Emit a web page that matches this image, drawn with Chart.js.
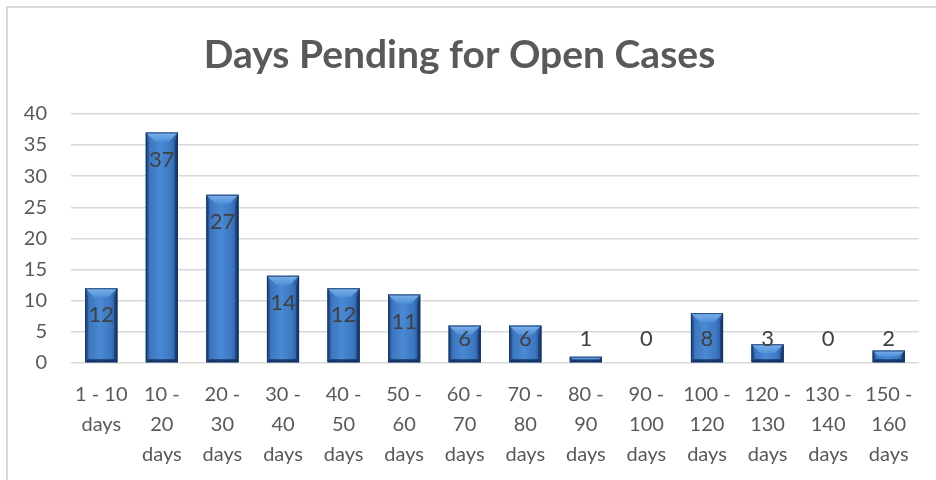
<!DOCTYPE html>
<html>
<head>
<meta charset="utf-8">
<script src="https://cdn.jsdelivr.net/npm/chart.js@4/dist/chart.umd.min.js"></script>
<style>
html,body{margin:0;padding:0;background:#fff;}
#wrap{position:absolute;left:0;top:0;width:936px;height:480px;}
</style>
</head>
<body>
<div id="wrap"><canvas id="c" width="936" height="480"></canvas></div>
<script>
const categories = [
  ["1 - 10","days"],["10 -","20","days"],["20 -","30","days"],["30 -","40","days"],
  ["40 -","50","days"],["50 -","60","days"],["60 -","70","days"],["70 -","80","days"],
  ["80 -","90","days"],["90 -","100","days"],["100 -","120","days"],["120 -","130","days"],
  ["130 -","140","days"],["150 -","160","days"]
];
const openCases = [12, 37, 27, 14, 12, 11, 6, 6, 1, 0, 8, 3, 0, 2];
const titleText = "Days Pending for Open Cases";
const yMin = 0, yMax = 40, yStep = 5;

const FONT = "Lato, 'Liberation Sans', sans-serif";

const frame = {
  id: 'frame',
  beforeDraw(chart) {
    const ctx = chart.ctx;
    ctx.save();
    ctx.fillStyle = '#fff';
    ctx.fillRect(0, 0, chart.width, chart.height);
    ctx.strokeStyle = '#d9d9d9';
    ctx.lineWidth = 2;
    ctx.beginPath();
    ctx.moveTo(7, chart.height);
    ctx.lineTo(7, 7);
    ctx.lineTo(chart.width, 7);
    ctx.stroke();
    ctx.restore();
  }
};

const bevel = {
  id: 'bevel',
  afterDatasetsDraw(chart) {
    const ctx = chart.ctx;
    const meta = chart.getDatasetMeta(0);
    const yScale = chart.scales.y;
    ctx.save();
    meta.data.forEach((bar, i) => {
      const p = bar.getProps(['x', 'y', 'base', 'width'], true);
      const x0 = p.x - p.width / 2, x1 = p.x + p.width / 2;
      const top = Math.min(p.y, p.base), bot = Math.max(p.y, p.base);
      const h = bot - top;
      if (h < 0.5) return;
      const g = ctx.createLinearGradient(x0, 0, x1, 0);
      g.addColorStop(0, '#1f4a82');
      g.addColorStop(0.1, '#3b74bd');
      g.addColorStop(0.45, '#4a89d4');
      g.addColorStop(0.8, '#3c76c0');
      g.addColorStop(0.94, '#2a5b9c');
      g.addColorStop(1, '#173c6c');
      ctx.fillStyle = g;
      ctx.fillRect(x0, top, p.width, h);
      const b = Math.min(9, h / 2);
      const tg = ctx.createLinearGradient(0, top, 0, top + b);
      tg.addColorStop(0, '#7fb2ec');
      tg.addColorStop(1, '#4f8fd8');
      ctx.fillStyle = tg;
      ctx.beginPath();
      ctx.moveTo(x0, top);
      ctx.lineTo(x1, top);
      ctx.lineTo(x1 - b, top + b);
      ctx.lineTo(x0 + b, top + b);
      ctx.closePath();
      ctx.fill();
      const s = Math.min(3, b);
      ctx.fillStyle = 'rgba(30,70,130,0.55)';
      ctx.beginPath();
      ctx.moveTo(x0, top);
      ctx.lineTo(x0 + s, top + b);
      ctx.lineTo(x0 + s, bot - s);
      ctx.lineTo(x0, bot);
      ctx.closePath();
      ctx.fill();
      ctx.fillStyle = 'rgba(15,45,90,0.6)';
      ctx.beginPath();
      ctx.moveTo(x1, top);
      ctx.lineTo(x1 - s, top + b);
      ctx.lineTo(x1 - s, bot - s);
      ctx.lineTo(x1, bot);
      ctx.closePath();
      ctx.fill();
      ctx.fillStyle = 'rgba(10,35,75,0.75)';
      ctx.beginPath();
      ctx.moveTo(x0, bot);
      ctx.lineTo(x0 + s, bot - s);
      ctx.lineTo(x1 - s, bot - s);
      ctx.lineTo(x1, bot);
      ctx.closePath();
      ctx.fill();
      ctx.strokeStyle = 'rgba(20,50,95,0.8)';
      ctx.lineWidth = 1;
      ctx.strokeRect(x0 + 0.5, top + 0.5, p.width - 1, h - 1);
    });
    const zeroPx = yScale.getPixelForValue(0);
    ctx.fillStyle = '#404040';
    ctx.font = "22px " + FONT;
    ctx.textAlign = 'center';
    ctx.textBaseline = 'middle';
    meta.data.forEach((bar, i) => {
      const p = bar.getProps(['x', 'y'], true);
      const ly = Math.min(p.y + 27, zeroPx - 24);
      ctx.fillText(String(openCases[i]), p.x, ly);
    });
    ctx.restore();
  }
};

new Chart(document.getElementById('c'), {
  type: 'bar',
  data: {
    labels: categories,
    datasets: [{
      data: openCases,
      backgroundColor: '#3f7cc6',
      borderWidth: 0,
      barPercentage: 0.53,
      categoryPercentage: 1.0
    }]
  },
  plugins: [frame, bevel],
  options: {
    responsive: false,
    animation: false,
    devicePixelRatio: 1,
    layout: { padding: { left: 0, right: 17, top: 0, bottom: 0 } },
    plugins: {
      legend: { display: false },
      tooltip: { enabled: false },
      title: {
        display: true,
        text: titleText,
        color: '#595959',
        font: { family: FONT, size: 39, weight: 'bold' },
        padding: { top: 32, bottom: 35 }
      }
    },
    scales: {
      y: {
        min: yMin, max: yMax,
        ticks: {
          stepSize: yStep,
          color: '#595959',
          font: { family: FONT, size: 20 },
          padding: 24
        },
        grid: { color: '#d9d9d9', lineWidth: 1.5, drawTicks: false },
        border: { display: false },
        afterFit(scale) { scale.width = 71; }
      },
      x: {
        ticks: {
          color: '#595959',
          font: { family: FONT, size: 20, lineHeight: 1.52 },
          padding: 16,
          maxRotation: 0, minRotation: 0,
          autoSkip: false
        },
        grid: { display: false, drawTicks: false },
        border: { display: false },
        afterFit(scale) { scale.height = 117; }
      }
    }
  }
});
</script>
</body>
</html>
